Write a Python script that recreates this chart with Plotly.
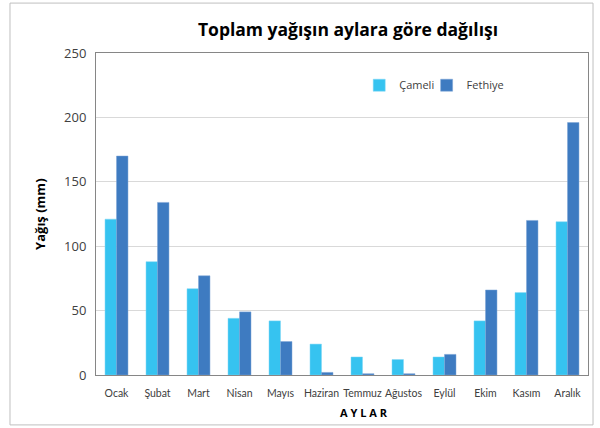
import plotly.graph_objects as go

months = ["Ocak", "Şubat", "Mart", "Nisan", "Mayıs", "Haziran", "Temmuz",
          "Ağustos", "Eylül", "Ekim", "Kasım", "Aralık"]
cameli = [121, 88, 67, 44, 42, 24, 14, 12, 14, 42, 64, 119]
fethiye = [170, 134, 77, 49, 26, 2, 1, 1, 16, 66, 120, 196]
y_ticks = [0, 50, 100, 150, 200, 250]

FONT = "Open Sans"

fig = go.Figure()
fig.add_trace(go.Bar(x=months, y=cameli, name="Çameli", legend="legend",
                     marker=dict(color="#36C3F0", line=dict(color="#7FD6F5", width=0.5))))
fig.add_trace(go.Bar(x=months, y=fethiye, name="Fethiye", legend="legend2",
                     marker=dict(color="#3E7BC1", line=dict(color="#7DA4D6", width=0.5))))

leg_common = dict(orientation="h", yanchor="middle", xanchor="left",
                  font=dict(size=11, color="#404040", family=FONT),
                  bgcolor="rgba(0,0,0,0)", itemwidth=30)

fig.update_layout(
    width=600, height=428,
    margin=dict(l=96, r=12, t=53, b=53, autoexpand=False),
    paper_bgcolor="white", plot_bgcolor="white",
    barmode="group", bargap=0.44, bargroupgap=0,
    font=dict(family=FONT, color="#404040"),
    showlegend=True,
    legend=dict(x=0.535, y=0.90, **leg_common),
    legend2=dict(x=0.672, y=0.90, **leg_common),
    title=dict(text="<b>Toplam yağışın aylara göre dağılışı</b>",
               x=0.58, xanchor="center", y=0.93, yanchor="middle",
               font=dict(size=17.5, color="#000000", family=FONT)),
    xaxis=dict(showline=True, linecolor="#868686", linewidth=1, mirror=True,
               ticks="", tickangle=0, automargin=False, ticklabelstandoff=8,
               tickfont=dict(size=10.5, color="#404040", family="Lato")),
    yaxis=dict(range=[0, 250], tickvals=y_ticks, showline=True, linecolor="#868686",
               linewidth=1, mirror=True, showgrid=True, gridcolor="#D9D9D9",
               ticks="", automargin=False, ticklabelstandoff=6,
               tickfont=dict(size=13, color="#404040"), zeroline=False),
    annotations=[
        dict(text="<b>Yağış (mm)</b>", textangle=-90, x=-0.114, y=0.5,
             xref="paper", yref="paper", showarrow=False,
             xanchor="center", yanchor="middle",
             font=dict(size=13, color="#000000", family=FONT)),
        dict(text="<b>A Y L A R</b>", x=0.545, y=-0.115, xref="paper", yref="paper",
             showarrow=False, xanchor="center", yanchor="middle",
             font=dict(size=11, color="#000000", family=FONT)),
    ],
    shapes=[dict(type="rect", xref="paper", yref="paper",
                 x0=-0.1748, x1=1.0102, y0=-0.155, y1=1.155,
                 line=dict(color="#BFBFBF", width=1))],
)

fig.write_html("out.html", config={"displayModeBar": False})
with open("out.html", encoding="utf-8") as f:
    html = f.read()
html = html.replace("<body>", '<body style="margin:0;padding:0;overflow:hidden">', 1)
with open("out.html", "w", encoding="utf-8") as f:
    f.write(html)
